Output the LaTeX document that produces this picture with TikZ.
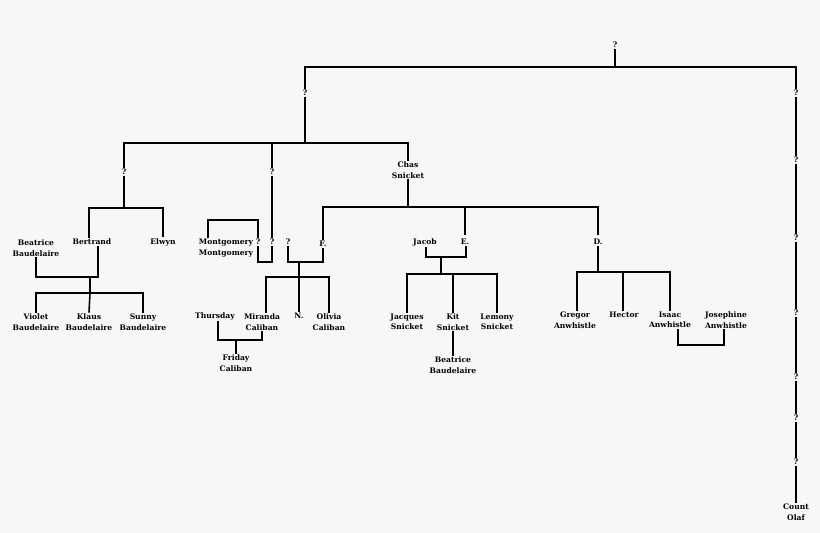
\documentclass[tikz,border=0pt]{standalone}
\usepackage{fontspec}
\setmainfont{DejaVu Serif}
\begin{document}
\begin{tikzpicture}[x=1pt,y=-1pt,
    person/.style={font=\fontsize{7.6}{10.5}\selectfont\bfseries, align=center, inner sep=1pt},
    link/.style={-, line width=1.6pt, black}
]
\useasboundingbox[fill=gray!6] (0,0) rectangle (820,533);

% Top
\node[person] (top) at (615,45) {?};
\node[person] (q1) at (305,93) {?};
\node[person] (r1) at (796,93) {?};
\draw[link] (top.south) -- (615,67) coordinate (jtop);
\draw[link] (q1.north) |- (jtop) -| (r1.north);

% Right column
\node[person] (r2) at (796,160) {?};
\node[person] (r3) at (796,238) {?};
\node[person] (r4) at (796,313) {?};
\node[person] (r5) at (796,377) {?};
\node[person] (r6) at (796,418) {?};
\node[person] (r7) at (796,462) {?};
\node[person] (olaf) at (796,512) {Count\\Olaf};
\foreach \a/\b in {r1/r2,r2/r3,r3/r4,r4/r5,r5/r6,r6/r7,r7/olaf}
    \draw[link] (\a.south) -- (\b.north);

% Second level
\node[person] (q2) at (124,172) {?};
\node[person] (q3) at (272,172) {?};
\node[person] (chas) at (408,170) {Chas\\Snicket};
\draw[link] (q1.south) -- (305,143) coordinate (j1);
\draw[link] (q2.north) |- (j1) -| (chas.north);
\draw[link] (q3.north) -- (272,143);

% Baudelaires
\node[person] (bea) at (36,248) {Beatrice\\Baudelaire};
\node[person] (bert) at (92,242) {Bertrand};
\node[person] (elwyn) at (163,242) {Elwyn};
\draw[link] (q2.south) -- (124,208) coordinate (j2);
\draw[link] (89,0 |- bert.north) |- (j2) -| (elwyn.north);
\draw[link] (36,0 |- bea.south) |- (98,277) coordinate (j3) -- (98,0 |- bert.south);
\node[person] (violet) at (36,322) {Violet\\Baudelaire};
\node[person] (klaus) at (89,322) {Klaus\\Baudelaire};
\node[person] (sunny) at (143,322) {Sunny\\Baudelaire};
\draw[link] (90,277) -- (90,293) coordinate (j4);
\draw[link] (violet.north) |- (j4) -| (sunny.north);
\draw[link] (j4) -- (klaus.north);

% Montgomery
\node[person] (monty) at (226,248) {Montgomery\\Montgomery};
\node[person] (q4) at (258,242) {?};
\node[person] (q5) at (272,242) {?};
\draw[link] (208,0 |- monty.north) |- (258,220) -- (q4.north);
\draw[link] (q3.south) -- (q5.north);
\draw[link] (q4.south) |- (272,262) -- (q5.south);

% Calibans
\node[person] (q6) at (288,242) {?};
\node[person] (f) at (323,244) {F.};
\draw[link] (chas.south) -- (408,207) coordinate (j5);
\draw[link] (f.north) |- (j5) -| (598,235);
\draw[link] (465,207) -- (465,235);
\draw[link] (q6.south) |- (299,262) coordinate (j6) -| (f.south);
\node[person] (miranda) at (262,322) {Miranda\\Caliban};
\node[person] (n) at (299,316) {N.};
\node[person] (olivia) at (329,322) {Olivia\\Caliban};
\node[person] (thursday) at (215,316) {Thursday};
\draw[link] (j6) -- (299,277) coordinate (j7);
\draw[link] (266,0 |- miranda.north) |- (j7) -| (olivia.north);
\draw[link] (j7) -- (n.north);
\node[person] (friday) at (236,363) {Friday\\Caliban};
\draw[link] (218,0 |- thursday.south) |- (236,340) coordinate (j8) -| (262,0 |- miranda.south);
\draw[link] (j8) -- (friday.north);

% Snickets
\node[person] (jacob) at (425,242) {Jacob};
\node[person] (e) at (465,242) {E.};
\draw[link] (426,0 |- jacob.south) |- (441,257) coordinate (j9) -| (466,0 |- e.south);
\node[person] (jacques) at (407,322) {Jacques\\Snicket};
\node[person] (kit) at (453,322) {Kit\\Snicket};
\node[person] (lemony) at (497,322) {Lemony\\Snicket};
\draw[link] (j9) -- (441,274) coordinate (j10);
\draw[link] (jacques.north) |- (j10) -| (lemony.north);
\draw[link] (453,274) -- (kit.north);
\node[person] (bea2) at (453,365) {Beatrice\\Baudelaire};
\draw[link] (kit.south) -- (bea2.north);

% Anwhistles
\node[person] (d) at (598,242) {D.};
\node[person] (gregor) at (575,320) {Gregor\\Anwhistle};
\node[person] (hector) at (624,315) {Hector};
\node[person] (isaac) at (670,320) {Isaac\\Anwhistle};
\node[person] (josephine) at (726,320) {Josephine\\Anwhistle};
\draw[link] (d.south) -- (598,272) coordinate (j11);
\draw[link] (577,0 |- gregor.north) |- (j11) -| (isaac.north);
\draw[link] (623,272) -- (623,0 |- hector.north);
\draw[link] (678,0 |- isaac.south) |- (724,345) -- (724,0 |- josephine.south);
\end{tikzpicture}
\end{document}
